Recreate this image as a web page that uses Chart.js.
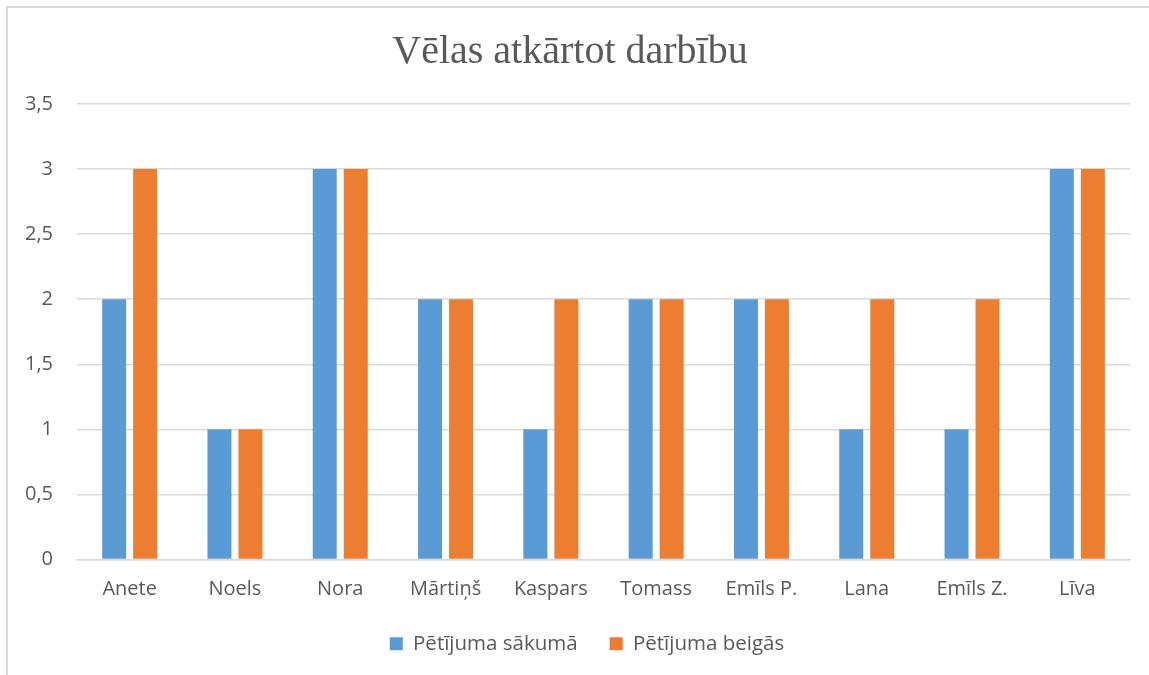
<!DOCTYPE html>
<html>
<head>
<meta charset="utf-8">
<script src="https://cdn.jsdelivr.net/npm/chart.js@4.4.1/dist/chart.umd.min.js"></script>
<style>
html,body{margin:0;padding:0;background:#fff;}
#wrap{position:relative;width:1149px;height:675px;}
</style>
</head>
<body>
<div id="wrap"><canvas id="c"></canvas></div>
<script>
const categories = ["Anete","Noels","Nora","Mārtiņš","Kaspars","Tomass","Emīls P.","Lana","Emīls Z.","Līva"];
const seriesStart = [2,1,3,2,1,2,2,1,1,3];
const seriesEnd = [3,1,3,2,2,2,2,2,2,3];
const seriesNames = ["Pētījuma sākumā","Pētījuma beigās"];
const yTicks = [0,0.5,1,1.5,2,2.5,3,3.5];
const titleText = "Vēlas atkārtot darbību";

const borderPlugin = {
  id:'frame',
  afterLayout(chart){
    if(chart.legend){chart.legend.left+=22;chart.legend.right+=22;}
    if(chart.titleBlock){chart.titleBlock.left+=5;chart.titleBlock.right+=5;}
  },
  beforeDraw(chart){
    const ctx = chart.ctx;
    ctx.save();
    ctx.fillStyle='#fff';
    ctx.fillRect(0,0,chart.width,chart.height);
    ctx.strokeStyle='#d9d9d9';
    ctx.lineWidth=2;
    ctx.beginPath();
    ctx.moveTo(7,chart.height);
    ctx.lineTo(7,7);
    ctx.lineTo(chart.width,7);
    ctx.stroke();
    ctx.restore();
  }
};

new Chart(document.getElementById('c'),{
  type:'bar',
  data:{
    labels:categories,
    datasets:[
      {label:seriesNames[0],data:seriesStart,backgroundColor:'#5B9BD5',categoryPercentage:0.589,barPercentage:0.774},
      {label:seriesNames[1],data:seriesEnd,backgroundColor:'#ED7D31',categoryPercentage:0.589,barPercentage:0.774}
    ]
  },
  options:{
    responsive:true,
    maintainAspectRatio:false,
    animation:false,
    layout:{padding:{left:0,right:19,top:0,bottom:11}},
    plugins:{
      title:{display:true,text:titleText,color:'#595959',font:{family:'"Liberation Serif", serif',size:40,weight:'normal'},padding:{top:28,bottom:28}},
      legend:{position:'bottom',labels:{color:'#595959',font:{family:'"Open Sans", sans-serif',size:20.5},boxWidth:13,boxHeight:13,padding:32}},
      tooltip:{enabled:false}
    },
    scales:{
      x:{
        afterFit(s){s.height=42;},
        grid:{display:false,drawTicks:false},
        border:{display:true,color:'#d9d9d9',width:1.5},
        ticks:{color:'#595959',font:{family:'"Open Sans", sans-serif',size:20},padding:18}
      },
      y:{
        min:0,max:3.5,
        afterBuildTicks(s){s.ticks=yTicks.map(v=>({value:v}));},
        afterFit(s){s.width=77;},
        grid:{color:'#d9d9d9',lineWidth:1.5,drawTicks:false},
        border:{display:false},
        ticks:{color:'#595959',font:{family:'"Open Sans", sans-serif',size:20},padding:24,
          callback:(v)=>String(v).replace('.',',')}
      }
    }
  },
  plugins:[borderPlugin]
});
</script>
</body>
</html>
